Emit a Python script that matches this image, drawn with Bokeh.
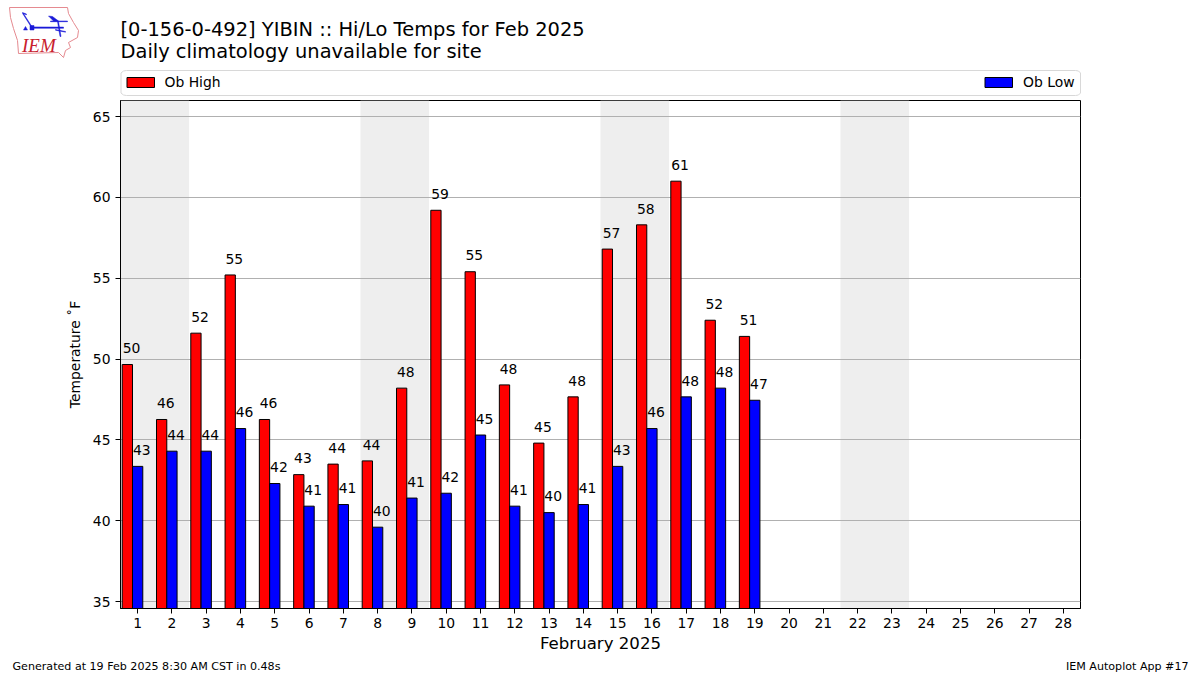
from bokeh.plotting import figure
from bokeh.layouts import column, row
from bokeh.embed import file_html
from bokeh.resources import INLINE
from bokeh.core.properties import value
from bokeh.models import Range1d, FixedTicker, ColumnDataSource

days = list(range(1, 29))
obs_days = list(range(1, 20))
highs = [49.66, 46.26, 51.6, 55.2, 46.26, 42.85, 43.5, 43.7, 48.2, 59.2, 55.4, 48.4, 44.8, 47.66, 56.8, 58.3, 61.0, 52.4, 51.4]
lows = [43.36, 44.3, 44.3, 45.7, 42.3, 40.9, 41.0, 39.6, 41.4, 41.7, 45.3, 40.9, 40.5, 41.0, 43.36, 45.7, 47.66, 48.2, 47.45]
weekend_starts = [1, 8, 15, 22]
y_ticks = [35, 40, 45, 50, 55, 60, 65]
title_lines = ["[0-156-0-492] YIBIN :: Hi/Lo Temps for Feb 2025", "Daily climatology unavailable for site"]
legend_labels = ["Ob High", "Ob Low"]
x_label = "February 2025"
y_label = "Temperature ˚F"
footer_left = "Generated at 19 Feb 2025 8:30 AM CST in 0.48s"
footer_right = "IEM Autoplot App #17"

FONT = "DejaVu Sans"
W = 1192
HEAD_H, MAIN_H, FOOT_H = 98, 557, 20
LEFT, RIGHT = 120, 1080
FRAME_BOTTOM = 608

def strip(y_from, y_to):
    """A bare figure whose data coordinates are the page's pixels."""
    f = figure(width=W, height=y_to - y_from, output_backend="svg", toolbar_location=None,
               x_range=Range1d(0, W), y_range=Range1d(y_to, y_from), min_border=0,
               x_axis_type=None, y_axis_type=None)
    f.outline_line_color = None
    f.grid.visible = False
    return f

def put(f, text, x, y, size, align="left", font=FONT, color="black", style="normal"):
    f.text(x=[x], y=[y], text=[text], text_font=value(font), text_font_size=size, text_align=align,
           text_baseline="middle", text_color=color, text_font_style=style)

# ---- header: logo, titles, legend strip
head = strip(0, HEAD_H)
put(head, title_lines[0], 120, 29, "19.45px")
put(head, title_lines[1], 120, 50.5, "19.45px")

head.patch(x=[126, 1075, 1078, 1080, 1080, 1078, 1075, 126, 123, 120.5, 120.5, 123],
           y=[70, 70, 70.5, 72.5, 92.5, 94.5, 95, 95, 94.5, 92.5, 72.5, 70.5],
           fill_color="white", line_color="#d8d8d8", line_width=1)
head.quad(left=[126.5], right=[154], top=[77], bottom=[87], fill_color="#ff0000", line_color="black")
put(head, legend_labels[0], 164, 81, "13.9px")
head.quad(left=[984.5], right=[1012], top=[77], bottom=[87], fill_color="#0000ff", line_color="black")
put(head, legend_labels[1], 1074, 81, "13.9px", align="right")

def poly(pts, fill=None, line="#1a1ad8", width=0.5):
    head.patch(x=[a for a, b in pts], y=[b for a, b in pts], fill_color=fill if fill else "white",
               fill_alpha=1 if fill else 0, line_color=line, line_width=width)

poly([(9,7),(67,7),(68,13),(73,22),(78,30),(77,37),(68,42),(70,47),(65,50),(63,57),(58,52),(18,53),(17,40),(13,28),(10,17)],
     line="#e58a90", width=1)
BLUE = "#1a1ad8"
poly([(32,26.4),(63,26.6),(63,27.8),(32,27.8)], BLUE, BLUE)
poly([(29.5,25),(33.5,25),(33.5,29.5),(29.5,29.5)], BLUE, BLUE)
poly([(32,27),(23,13),(22.4,13.4),(31,27)], BLUE, BLUE)
poly([(22,12),(26,13.6),(26,14.2),(22,13)], BLUE, BLUE)
poly([(48,15.5),(52,16),(58,20.5),(53,20.5)], BLUE, BLUE)
poly([(50,20.5),(67,20.5),(67,21.2),(50,21.2)], BLUE, BLUE)
poly([(57,21),(58,21),(60.5,36),(59.5,36)], BLUE, BLUE)
poly([(55,29),(65,31),(65,31.7),(55,29.7)], BLUE, BLUE)
poly([(23,29.5),(27,29.5),(25,26)], BLUE, BLUE)
put(head, "IEM", 21.5, 45, "19px", font="Liberation Serif", color="#c8202c", style="italic")

# ---- main chart
p = figure(width=W, height=MAIN_H, output_backend="svg", toolbar_location=None,
           x_range=Range1d(0.5, 28.5), y_range=Range1d(34.57, 65.99),
           min_border_left=LEFT, min_border_right=W - RIGHT, min_border_top=2,
           min_border_bottom=HEAD_H + MAIN_H - FRAME_BOTTOM)
p.outline_line_color = "black"
p.outline_line_width = 1

p.xgrid.visible = False
p.ygrid.grid_line_color = "#b0b0b0"
p.ygrid.grid_line_width = 1
p.ygrid.ticker = FixedTicker(ticks=y_ticks)
p.ygrid.level = "underlay"

for ax, ticks in ((p.xaxis[0], days), (p.yaxis[0], y_ticks)):
    ax.ticker = FixedTicker(ticks=ticks)
    ax.minor_tick_line_color = None
    ax.major_tick_in = 0
    ax.major_tick_out = 5
    ax.major_tick_line_color = "black"
    ax.axis_line_color = "black"
    ax.major_label_text_font = FONT
    ax.major_label_text_font_size = "13.9px"
    ax.major_label_text_color = "black"
    ax.axis_label_text_font = FONT
    ax.axis_label_text_font_style = "normal"
    ax.axis_label_text_color = "black"
p.xaxis[0].major_label_standoff = 4
p.yaxis[0].major_label_standoff = 5
p.xaxis[0].axis_label = x_label
p.xaxis[0].axis_label_text_font_size = "16.6px"
p.xaxis[0].axis_label_standoff = 3
p.yaxis[0].axis_label = y_label
p.yaxis[0].axis_label_text_font_size = "13.9px"
p.yaxis[0].axis_label_standoff = 7

p.quad(left=[d - 0.5 for d in weekend_starts], right=[d + 1.5 for d in weekend_starts],
       bottom=34.57, top=65.99, fill_color="#eeeeee", line_color=None, level="image")

src = ColumnDataSource(dict(
    hx=[d - 0.3 for d in obs_days], lx=obs_days, high=highs, low=lows,
    htx=[d - 0.18 for d in obs_days], ltx=[d + 0.12 for d in obs_days],
    hty=[v + 0.7 for v in highs], lty=[v + 0.7 for v in lows],
    hl=[str(round(v)) for v in highs], ll=[str(round(v)) for v in lows]))
p.vbar(x="hx", top="high", bottom=34.57, width=0.3, fill_color="#ff0000", line_color="black", line_width=1, source=src)
p.vbar(x="lx", top="low", bottom=34.57, width=0.3, fill_color="#0000ff", line_color="black", line_width=1, source=src)
for xc, yc, tc in (("htx", "hty", "hl"), ("ltx", "lty", "ll")):
    p.text(x=xc, y=yc, text=tc, source=src, text_font=value(FONT), text_font_size="13.9px",
           text_align="center", text_baseline="bottom", text_color="black")

# ---- footer
foot = strip(HEAD_H + MAIN_H, HEAD_H + MAIN_H + FOOT_H)
put(foot, footer_left, 12, 666, "11.1px")
put(foot, footer_right, 1188, 666, "11.1px", align="right")

# each figure in its own row, so that the outer column does not align their frames
page = column(row(head), row(p), row(foot), spacing=0)
open("out.html", "w").write(file_html(page, INLINE))
